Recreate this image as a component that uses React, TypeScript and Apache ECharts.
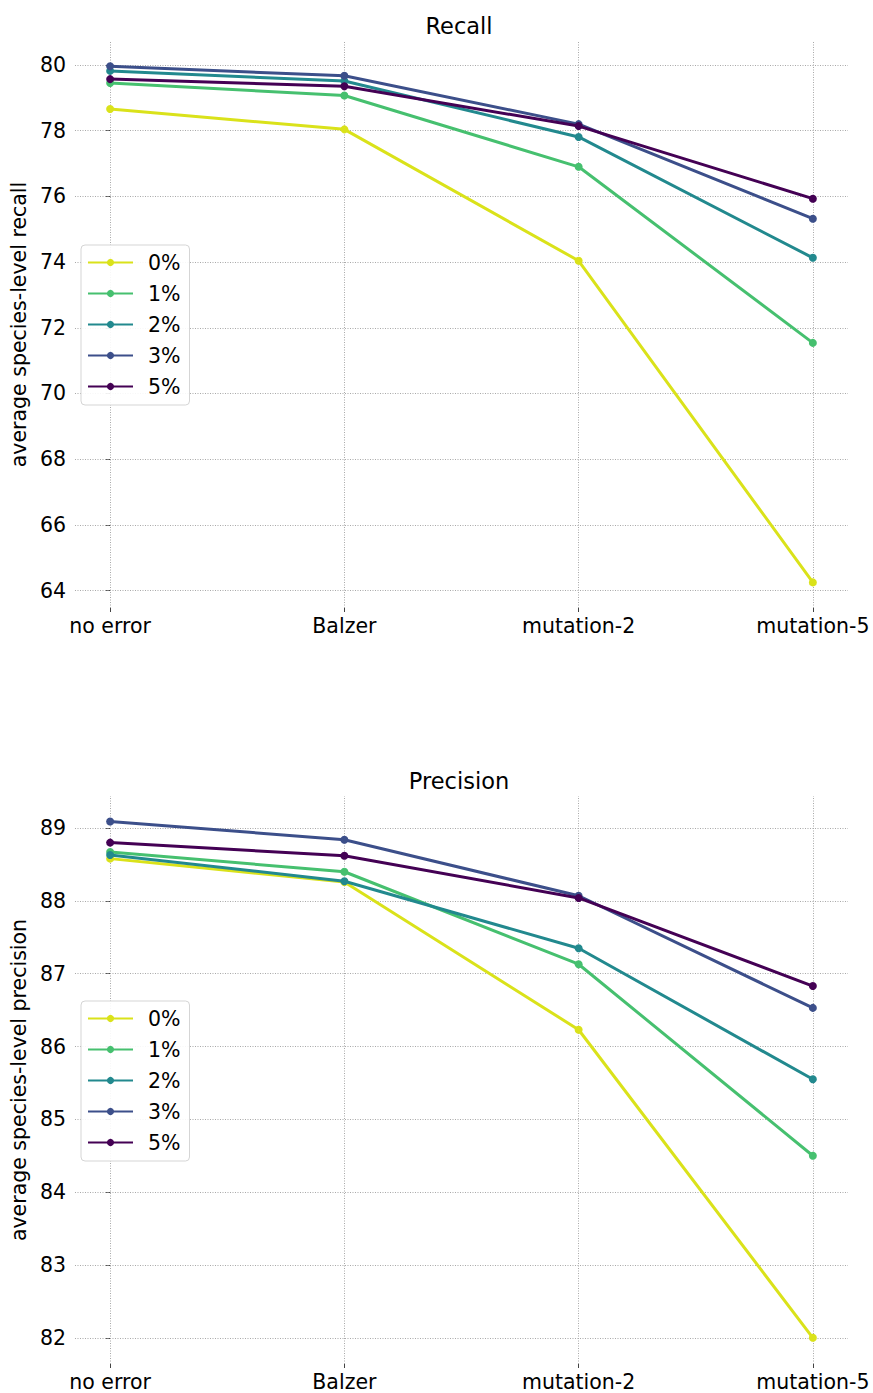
import React, { useEffect, useRef } from 'react';
import * as echarts from 'echarts';

const categories = ['no error', 'Balzer', 'mutation-2', 'mutation-5'];
const seriesNames = ['0%', '1%', '2%', '3%', '5%'];
const seriesColors = ['#dae21a', '#46c06f', '#22898e', '#3c4f8a', '#440154'];

const recall0 = [78.66, 78.04, 74.04, 64.25];
const recall1 = [79.45, 79.07, 76.9, 71.54];
const recall2 = [79.82, 79.51, 77.81, 74.13];
const recall3 = [79.96, 79.67, 78.2, 75.32];
const recall5 = [79.57, 79.35, 78.14, 75.93];

const precision0 = [88.58, 88.26, 86.23, 82.0];
const precision1 = [88.67, 88.4, 87.13, 84.5];
const precision2 = [88.63, 88.27, 87.35, 85.55];
const precision3 = [89.09, 88.84, 88.07, 86.53];
const precision5 = [88.8, 88.62, 88.04, 86.83];

const recallTicks = [64, 66, 68, 70, 72, 74, 76, 78, 80];
const precisionTicks = [82, 83, 84, 85, 86, 87, 88, 89];

const FONT = "'DejaVu Sans', sans-serif";
const FS = 20.5;
const catIdx = categories.map((_, i) => i);

function buildOption() {
  const recall = [recall0, recall1, recall2, recall3, recall5];
  const precision = [precision0, precision1, precision2, precision3, precision5];
  const panels = [
    { top: 41, height: 567, min: 63.47, max: 80.73, ticks: recallTicks, data: recall, name: 'average species-level recall', legendTop: 245 },
    { top: 796, height: 568, min: 81.64, max: 89.44, ticks: precisionTicks, data: precision, name: 'average species-level precision', legendTop: 1001 },
  ];
  const grid: any[] = [];
  const xAxis: any[] = [];
  const yAxis: any[] = [];
  const series: any[] = [];
  const legend: any[] = [];
  panels.forEach((p, gi) => {
    grid.push({ left: 71, top: p.top, width: 777, height: p.height });
    xAxis.push({
      type: 'value', gridIndex: gi, min: -0.15, max: 3.15,
      axisLine: { show: false }, splitLine: { show: false },
      axisTick: { show: true, customValues: catIdx, length: 4, lineStyle: { color: '#444', width: 1 } },
      axisLabel: { customValues: catIdx, formatter: (v: number) => categories[Math.round(v)], fontSize: FS, color: '#000', fontFamily: FONT, margin: 7 },
    });
    yAxis.push({
      type: 'value', gridIndex: gi, min: p.min, max: p.max,
      axisLine: { show: false }, splitLine: { show: false },
      axisTick: { show: true, customValues: p.ticks, length: 4, lineStyle: { color: '#444', width: 1 } },
      axisLabel: { customValues: p.ticks, fontSize: FS, color: '#000', fontFamily: FONT, margin: 9 },
      name: p.name, nameLocation: 'middle', nameRotate: 90, nameGap: 41,
      nameTextStyle: { fontSize: FS, color: '#000', fontFamily: FONT },
    });
    series.push({
      type: 'line', name: '__grid' + gi, xAxisIndex: gi, yAxisIndex: gi, data: [], z: 1, silent: true,
      markLine: {
        silent: true, z: 1, symbol: ['none', 'none'], label: { show: false }, animation: false,
        lineStyle: { type: [1, 1.5], color: '#a8a8a8', width: 1 },
        emphasis: { disabled: true },
        data: [...catIdx.map((x) => ({ xAxis: x })), ...p.ticks.map((y) => ({ yAxis: y }))],
      },
    });
    p.data.forEach((vals, si) => {
      series.push({
        type: 'line', name: seriesNames[si], xAxisIndex: gi, yAxisIndex: gi, z: 2 + si,
        data: vals.map((v, i) => [catIdx[i], v]),
        symbol: 'circle', symbolSize: 8, showSymbol: true,
        lineStyle: { color: seriesColors[si], width: 3 },
        itemStyle: { color: seriesColors[si] },
      });
    });
    legend.push({
      orient: 'vertical', left: 81, top: p.legendTop, data: seriesNames,
      itemWidth: 45, itemHeight: 9, itemGap: 10, padding: [7, 9, 8, 6],
      borderColor: '#d5d5d5', borderWidth: 1, borderRadius: 4, backgroundColor: 'rgba(255,255,255,0.9)',
      textStyle: { fontSize: FS, color: '#000', fontFamily: FONT, padding: [0, 0, 0, 10] },
    });
  });
  return {
    animation: false,
    backgroundColor: '#ffffff',
    textStyle: { fontFamily: FONT },
    grid, xAxis, yAxis, series, legend,
    graphic: [
      { type: 'text', x: 459, y: 26, style: { text: 'Recall', fontSize: 22.5, fontFamily: FONT, fill: '#000', textAlign: 'center', textVerticalAlign: 'middle' } },
      { type: 'text', x: 459, y: 781, style: { text: 'Precision', fontSize: 22.5, fontFamily: FONT, fill: '#000', textAlign: 'center', textVerticalAlign: 'middle' } },
    ],
  };
}

export default function App() {
  const ref = useRef<HTMLDivElement>(null);
  useEffect(() => {
    if (!ref.current) return;
    const chart = echarts.init(ref.current, null, { renderer: 'svg' });
    chart.setOption(buildOption() as any);
    return () => chart.dispose();
  }, []);
  return <div ref={ref} style={{ position: 'absolute', left: 0, top: 0, width: 873, height: 1393 }} />;
}
